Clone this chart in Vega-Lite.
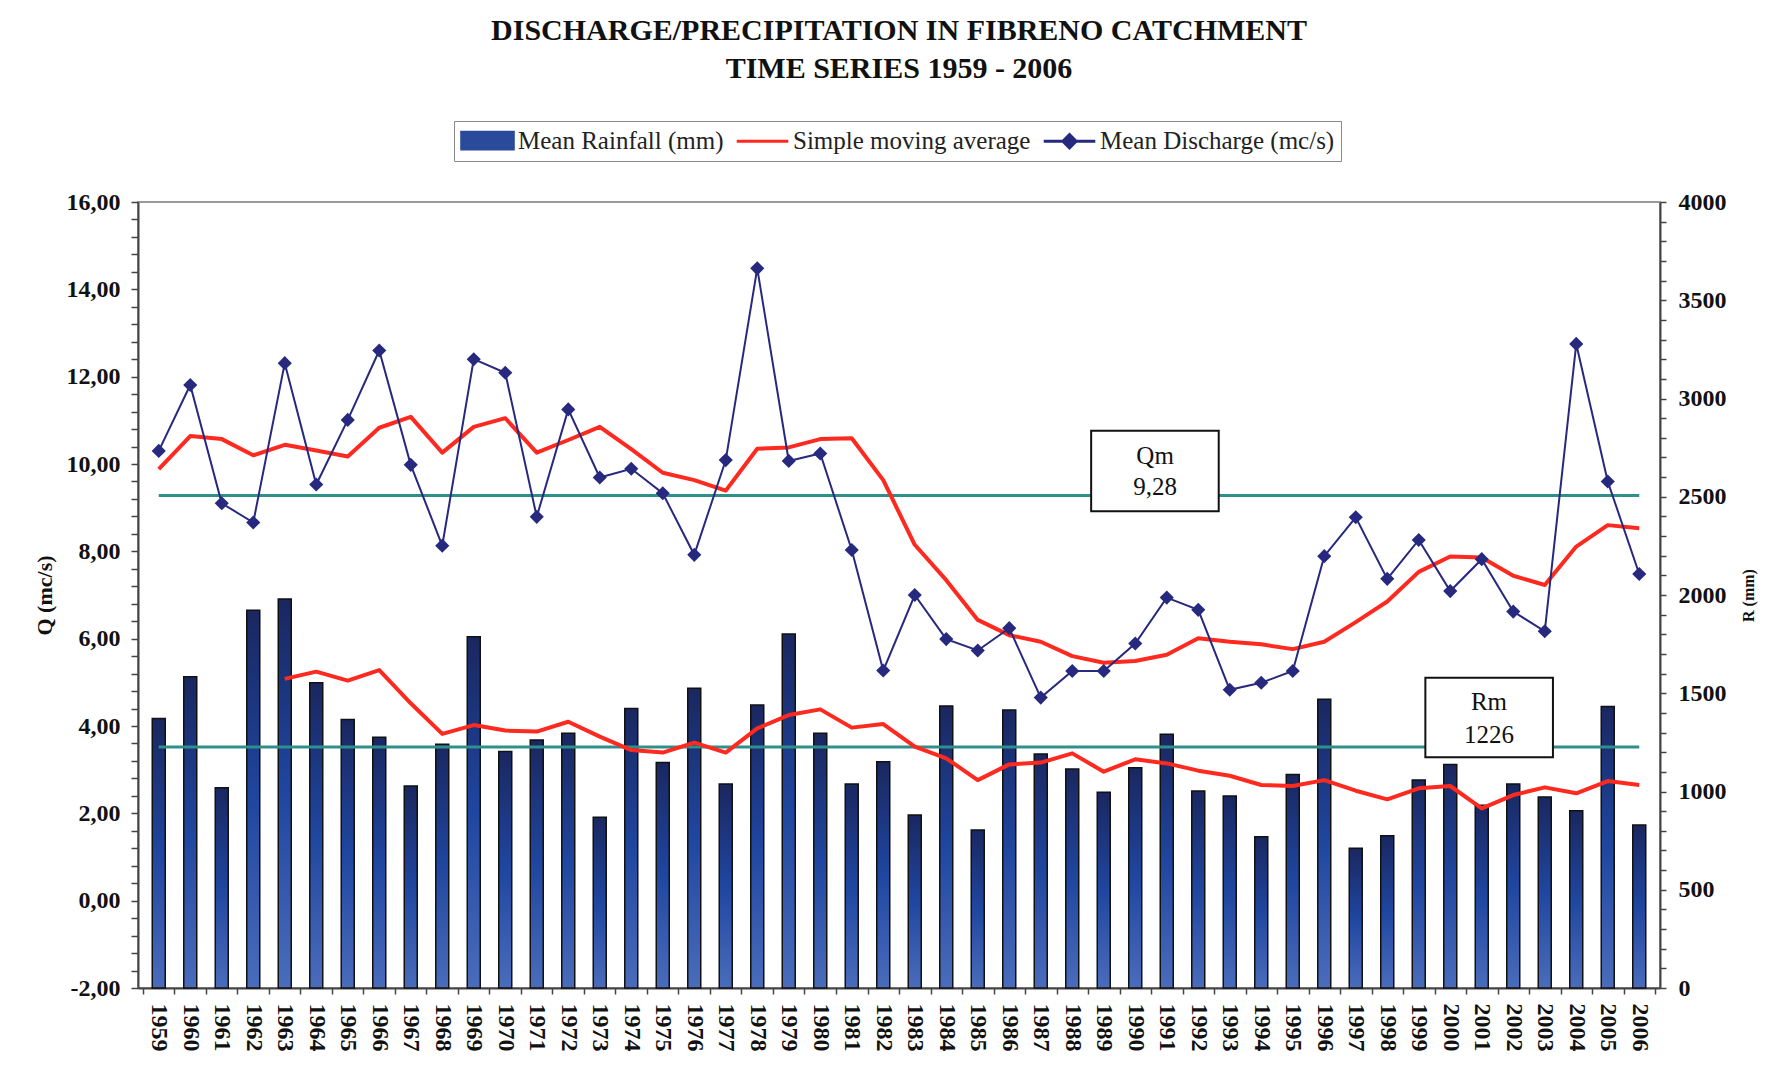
{
  "$schema": "https://vega.github.io/schema/vega-lite/v6.json",
  "width": 1522,
  "height": 786,
  "autosize": {"type": "none"},
  "padding": {"left": 138, "top": 202, "right": 126, "bottom": 82},
  "background": "white",
  "config": {
    "view": {"stroke": "#9a9a9a", "strokeWidth": 2},
    "font": "Liberation Serif"
  },
  "title": {
    "text": ["DISCHARGE/PRECIPITATION IN FIBRENO CATCHMENT", "TIME SERIES 1959 - 2006"],
    "font": "Liberation Serif",
    "fontSize": 30,
    "fontWeight": "bold",
    "lineHeight": 38,
    "color": "#111111",
    "anchor": "middle",
    "frame": "group",
    "offset": 37
  },
  "datasets": {
    "main": [
      {"year": 1959, "R": 1372, "Rma": null, "Q": 10.30, "Qma": 9.88},
      {"year": 1960, "R": 1584, "Rma": null, "Q": 11.81, "Qma": 10.64},
      {"year": 1961, "R": 1019, "Rma": null, "Q": 9.10, "Qma": 10.57},
      {"year": 1962, "R": 1922, "Rma": null, "Q": 8.66, "Qma": 10.20},
      {"year": 1963, "R": 1980, "Rma": 1573, "Q": 12.31, "Qma": 10.44},
      {"year": 1964, "R": 1554, "Rma": 1610, "Q": 9.53, "Qma": 10.31},
      {"year": 1965, "R": 1367, "Rma": 1564, "Q": 11.01, "Qma": 10.17},
      {"year": 1966, "R": 1276, "Rma": 1618, "Q": 12.60, "Qma": 10.83},
      {"year": 1967, "R": 1028, "Rma": 1449, "Q": 9.98, "Qma": 11.08},
      {"year": 1968, "R": 1240, "Rma": 1293, "Q": 8.13, "Qma": 10.26},
      {"year": 1969, "R": 1788, "Rma": 1338, "Q": 12.40, "Qma": 10.85},
      {"year": 1970, "R": 1203, "Rma": 1310, "Q": 12.09, "Qma": 11.05},
      {"year": 1971, "R": 1262, "Rma": 1305, "Q": 8.79, "Qma": 10.26},
      {"year": 1972, "R": 1296, "Rma": 1355, "Q": 11.25, "Qma": 10.55},
      {"year": 1973, "R": 869, "Rma": 1279, "Q": 9.69, "Qma": 10.85},
      {"year": 1974, "R": 1423, "Rma": 1211, "Q": 9.89, "Qma": 10.34},
      {"year": 1975, "R": 1147, "Rma": 1198, "Q": 9.33, "Qma": 9.80},
      {"year": 1976, "R": 1525, "Rma": 1249, "Q": 7.92, "Qma": 9.63},
      {"year": 1977, "R": 1038, "Rma": 1198, "Q": 10.09, "Qma": 9.39},
      {"year": 1978, "R": 1440, "Rma": 1321, "Q": 14.48, "Qma": 10.35},
      {"year": 1979, "R": 1802, "Rma": 1389, "Q": 10.07, "Qma": 10.38},
      {"year": 1980, "R": 1296, "Rma": 1418, "Q": 10.24, "Qma": 10.57},
      {"year": 1981, "R": 1038, "Rma": 1325, "Q": 8.03, "Qma": 10.59},
      {"year": 1982, "R": 1152, "Rma": 1343, "Q": 5.27, "Qma": 9.63},
      {"year": 1983, "R": 880, "Rma": 1228, "Q": 7.00, "Qma": 8.15},
      {"year": 1984, "R": 1435, "Rma": 1169, "Q": 5.99, "Qma": 7.34},
      {"year": 1985, "R": 804, "Rma": 1058, "Q": 5.73, "Qma": 6.43},
      {"year": 1986, "R": 1415, "Rma": 1138, "Q": 6.24, "Qma": 6.08},
      {"year": 1987, "R": 1191, "Rma": 1147, "Q": 4.65, "Qma": 5.93},
      {"year": 1988, "R": 1114, "Rma": 1194, "Q": 5.26, "Qma": 5.60},
      {"year": 1989, "R": 996, "Rma": 1101, "Q": 5.26, "Qma": 5.45},
      {"year": 1990, "R": 1121, "Rma": 1164, "Q": 5.89, "Qma": 5.49},
      {"year": 1991, "R": 1291, "Rma": 1143, "Q": 6.94, "Qma": 5.63},
      {"year": 1992, "R": 1003, "Rma": 1106, "Q": 6.66, "Qma": 6.01},
      {"year": 1993, "R": 977, "Rma": 1080, "Q": 4.83, "Qma": 5.93},
      {"year": 1994, "R": 770, "Rma": 1033, "Q": 4.99, "Qma": 5.87},
      {"year": 1995, "R": 1087, "Rma": 1028, "Q": 5.26, "Qma": 5.76},
      {"year": 1996, "R": 1469, "Rma": 1058, "Q": 7.89, "Qma": 5.93},
      {"year": 1997, "R": 711, "Rma": 1004, "Q": 8.78, "Qma": 6.38},
      {"year": 1998, "R": 775, "Rma": 960, "Q": 7.37, "Qma": 6.85},
      {"year": 1999, "R": 1059, "Rma": 1016, "Q": 8.26, "Qma": 7.53},
      {"year": 2000, "R": 1138, "Rma": 1028, "Q": 7.09, "Qma": 7.88},
      {"year": 2001, "R": 930, "Rma": 914, "Q": 7.82, "Qma": 7.86},
      {"year": 2002, "R": 1038, "Rma": 982, "Q": 6.62, "Qma": 7.44},
      {"year": 2003, "R": 972, "Rma": 1021, "Q": 6.17, "Qma": 7.23},
      {"year": 2004, "R": 902, "Rma": 991, "Q": 12.75, "Qma": 8.11},
      {"year": 2005, "R": 1432, "Rma": 1053, "Q": 9.60, "Qma": 8.60},
      {"year": 2006, "R": 830, "Rma": 1033, "Q": 7.48, "Qma": 8.53}
    ],
    "rmean": [{"year": 1959, "R": 1226}, {"year": 2006, "R": 1226}],
    "qmean": [{"year": 1959, "Q": 9.28}, {"year": 2006, "Q": 9.28}],
    "rbox": [{"x1": 1999.21, "x2": 2003.26, "lo": 1174, "hi": 1579}],
    "qbox": [{"x1": 1988.6, "x2": 1992.65, "lo": 8.92, "hi": 10.76}],
    "rtext": [{"year": 2001.23, "R": 1457, "label": "Rm"}, {"year": 2001.23, "R": 1288, "label": "1226"}],
    "qtext": [{"year": 1990.63, "Q": 10.18, "label": "Qm"}, {"year": 1990.63, "Q": 9.47, "label": "9,28"}]
  },
  "layer": [
    {
      "layer": [
        {
          "data": {"name": "main"},
          "mark": {
            "type": "bar",
            "width": 13,
            "fill": {"x1": 0, "y1": 0, "x2": 0, "y2": 1, "gradient": "linear", "stops": [
              {"offset": 0, "color": "#1a2760"},
              {"offset": 0.5, "color": "#1f46a0"},
              {"offset": 1, "color": "#4a6cbb"}
            ]},
            "stroke": "#111111",
            "strokeWidth": 1.5
          },
          "encoding": {
            "x": {
              "field": "year", "type": "quantitative",
              "scale": {"domain": [1958.5, 2006.5], "nice": false, "zero": false},
              "axis": {
                "title": null,
                "grid": false,
                "tickCount": 200,
                "values": [1958.5,1959,1959.5,1960,1960.5,1961,1961.5,1962,1962.5,1963,1963.5,1964,1964.5,1965,1965.5,1966,1966.5,1967,1967.5,1968,1968.5,1969,1969.5,1970,1970.5,1971,1971.5,1972,1972.5,1973,1973.5,1974,1974.5,1975,1975.5,1976,1976.5,1977,1977.5,1978,1978.5,1979,1979.5,1980,1980.5,1981,1981.5,1982,1982.5,1983,1983.5,1984,1984.5,1985,1985.5,1986,1986.5,1987,1987.5,1988,1988.5,1989,1989.5,1990,1990.5,1991,1991.5,1992,1992.5,1993,1993.5,1994,1994.5,1995,1995.5,1996,1996.5,1997,1997.5,1998,1998.5,1999,1999.5,2000,2000.5,2001,2001.5,2002,2002.5,2003,2003.5,2004,2004.5,2005,2005.5,2006,2006.5],
                "labelExpr": "datum.value % 1 === 0 ? '' + datum.value : ''",
                "labelAngle": 90,
                "labelAlign": "left",
                "labelBaseline": "middle",
                "labelFont": "Liberation Serif",
                "labelFontSize": 24,
                "labelFontWeight": "bold",
                "labelColor": "#111111",
                "labelPadding": 9,
                "labelOverlap": false,
                "labelFlush": false,
                "labelBound": false,
                "tickSize": 6,
                "tickWidth": 1.5,
                "tickColor": "#444444",
                "tickOpacity": {"condition": {"test": "datum.value % 1 !== 0", "value": 1}, "value": 0},
                "domainColor": "#444444",
                "domainWidth": 2
              }
            },
            "y": {
              "field": "R", "type": "quantitative",
              "scale": {"domain": [0, 4000], "nice": false, "zero": true},
              "axis": {
                "orient": "right",
                "title": "R (mm)",
                "titleAngle": 270,
                "titleFont": "Liberation Serif",
                "titleFontSize": 16,
                "titleFontWeight": "bold",
                "titleColor": "#111111",
                "titlePadding": 30,
                "grid": false,
                "tickCount": 100,
                "values": [0,100,200,300,400,500,600,700,800,900,1000,1100,1200,1300,1400,1500,1600,1700,1800,1900,2000,2100,2200,2300,2400,2500,2600,2700,2800,2900,3000,3100,3200,3300,3400,3500,3600,3700,3800,3900,4000],
                "labelExpr": "datum.value % 500 === 0 ? '' + datum.value : ''",
                "labelFont": "Liberation Serif",
                "labelFontSize": 24,
                "labelFontWeight": "bold",
                "labelColor": "#111111",
                "labelPadding": 12,
                "labelOverlap": false,
                "labelFlush": false,
                "labelBaseline": "middle",
                "tickSize": 6,
                "tickWidth": 1.5,
                "tickColor": "#444444",
                "domainColor": "#444444",
                "domainWidth": 2
              }
            }
          }
        },
        {
          "data": {"name": "rmean"},
          "mark": {"type": "line", "color": "#2f8f8a", "strokeWidth": 3},
          "encoding": {
            "x": {"field": "year", "type": "quantitative"},
            "y": {"field": "R", "type": "quantitative"}
          }
        },
        {
          "data": {"name": "main"},
          "mark": {"type": "line", "strokeWidth": 4, "strokeJoin": "round"},
          "encoding": {
            "x": {"field": "year", "type": "quantitative"},
            "y": {"field": "Rma", "type": "quantitative"},
            "color": {
              "datum": "Simple moving average",
              "type": "nominal",
              "scale": {
                "domain": ["Mean Rainfall (mm)", "Simple moving average", "Mean Discharge (mc/s)"],
                "range": ["#2a4a9c", "#ff2a1f", "#27297f"]
              },
              "legend": {
                "title": null,
                "orient": "none",
                "direction": "horizontal",
                "legendX": 316,
                "legendY": -81,
                "labelFont": "Liberation Serif",
                "labelFontSize": 25,
                "labelColor": "#222222",
                "labelLimit": 400,
                "labelOffset": 17,
                "columnPadding": 6,
                "padding": 6,
                "symbolSize": 576,
                "symbolOffset": 14,
                "symbolOpacity": 1,
                "symbolStrokeWidth": 3,
                "symbolType": {"expr": "datum.value === 'Mean Rainfall (mm)' ? 'M-2.15,-0.69H2.15V0.69H-2.15Z' : (datum.value === 'Simple moving average' ? 'M-2.15,0H2.15' : 'M-2.15,0H2.15M0,-0.55L0.55,0L0,0.55L-0.55,0Z')"},
                "strokeColor": "#8a8a8a",
                "fillColor": "white"
              }
            }
          }
        },
        {
          "data": {"name": "rbox"},
          "mark": {"type": "rect", "fill": "white", "stroke": "#111111", "strokeWidth": 2},
          "encoding": {
            "x": {"field": "x1", "type": "quantitative"},
            "x2": {"field": "x2"},
            "y": {"field": "lo", "type": "quantitative"},
            "y2": {"field": "hi"}
          }
        },
        {
          "data": {"name": "rtext"},
          "mark": {"type": "text", "font": "Liberation Serif", "fontSize": 25, "color": "#111111", "align": "center", "baseline": "middle"},
          "encoding": {
            "x": {"field": "year", "type": "quantitative"},
            "y": {"field": "R", "type": "quantitative"},
            "text": {"field": "label"}
          }
        }
      ]
    },
    {
      "layer": [
        {
          "data": {"name": "qmean"},
          "mark": {"type": "line", "color": "#2f8f8a", "strokeWidth": 3},
          "encoding": {
            "x": {"field": "year", "type": "quantitative"},
            "y": {
              "field": "Q", "type": "quantitative",
              "scale": {"domain": [-2, 16], "nice": false, "zero": false},
              "axis": {
                "orient": "left",
                "title": "Q (mc/s)",
                "titleFont": "Liberation Serif",
                "titleFontSize": 22,
                "titleFontWeight": "bold",
                "titleColor": "#111111",
                "titlePadding": 10,
                "grid": false,
                "tickCount": 100,
                "values": [-2,-1.6,-1.2,-0.8,-0.4,0,0.4,0.8,1.2,1.6,2,2.4,2.8,3.2,3.6,4,4.4,4.8,5.2,5.6,6,6.4,6.8,7.2,7.6,8,8.4,8.8,9.2,9.6,10,10.4,10.8,11.2,11.6,12,12.4,12.8,13.2,13.6,14,14.4,14.8,15.2,15.6,16],
                "labelExpr": "abs(datum.value / 2 - round(datum.value / 2)) < 0.01 ? (datum.value < 0 ? '-' : '') + abs(round(datum.value)) + ',00' : ''",
                "labelFont": "Liberation Serif",
                "labelFontSize": 24,
                "labelFontWeight": "bold",
                "labelColor": "#111111",
                "labelPadding": 11,
                "labelOverlap": false,
                "labelFlush": false,
                "labelBaseline": "middle",
                "tickSize": 7,
                "tickWidth": 1.5,
                "tickColor": "#444444",
                "domainColor": "#444444",
                "domainWidth": 2
              }
            }
          }
        },
        {
          "data": {"name": "main"},
          "mark": {"type": "line", "strokeWidth": 4, "strokeJoin": "round"},
          "encoding": {
            "x": {"field": "year", "type": "quantitative"},
            "y": {"field": "Qma", "type": "quantitative"},
            "color": {"datum": "Simple moving average", "type": "nominal"}
          }
        },
        {
          "data": {"name": "main"},
          "mark": {"type": "line", "strokeWidth": 2, "point": {"filled": true, "shape": "diamond", "size": 200}},
          "encoding": {
            "x": {"field": "year", "type": "quantitative"},
            "y": {"field": "Q", "type": "quantitative"},
            "color": {"datum": "Mean Discharge (mc/s)", "type": "nominal"}
          }
        },
        {
          "data": {"name": "qbox"},
          "mark": {"type": "rect", "fill": "white", "stroke": "#111111", "strokeWidth": 2},
          "encoding": {
            "x": {"field": "x1", "type": "quantitative"},
            "x2": {"field": "x2"},
            "y": {"field": "lo", "type": "quantitative"},
            "y2": {"field": "hi"}
          }
        },
        {
          "data": {"name": "qtext"},
          "mark": {"type": "text", "font": "Liberation Serif", "fontSize": 25, "color": "#111111", "align": "center", "baseline": "middle"},
          "encoding": {
            "x": {"field": "year", "type": "quantitative"},
            "y": {"field": "Q", "type": "quantitative"},
            "text": {"field": "label"}
          }
        }
      ]
    }
  ],
  "resolve": {"scale": {"y": "independent"}}
}
